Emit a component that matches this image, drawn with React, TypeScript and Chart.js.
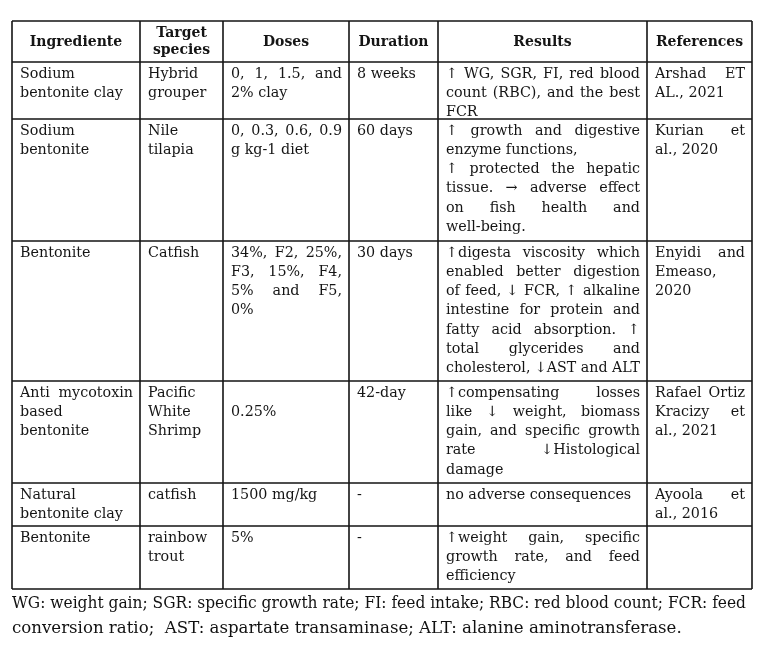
import React, { useEffect, useRef } from "react";
import { Chart, registerables } from "chart.js";

Chart.register(...registerables);

// ---------- DATA ----------
const headers: string[][] = [
  ["Ingrediente"],
  ["Target", "species"],
  ["Doses"],
  ["Duration"],
  ["Results"],
  ["References"],
];

const ingredients: string[][] = [
  ["Sodium", "bentonite clay"],
  ["Sodium", "bentonite"],
  ["Bentonite"],
  ["Anti mycotoxin", "based", "bentonite"],
  ["Natural", "bentonite clay"],
  ["Bentonite"],
];

const targetSpecies: string[][] = [
  ["Hybrid", "grouper"],
  ["Nile", "tilapia"],
  ["Catfish"],
  ["Pacific", "White", "Shrimp"],
  ["catfish"],
  ["rainbow", "trout"],
];

const doses: string[][] = [
  ["0, 1, 1.5, and", "2% clay"],
  ["0, 0.3, 0.6, 0.9", "g kg-1 diet"],
  ["34%, F2, 25%,", "F3, 15%, F4,", "5% and F5,", "0%"],
  ["", "0.25%"],
  ["1500 mg/kg"],
  ["5%"],
];

const durations: string[][] = [
  ["8 weeks"],
  ["60 days"],
  ["30 days"],
  ["42-day"],
  ["-"],
  ["-"],
];

// a line ending with "\n" closes a paragraph (not justified)
const results: string[][] = [
  ["↑ WG, SGR, FI, red blood", "count (RBC), and the best", "FCR"],
  [
    "↑ growth and digestive",
    "enzyme functions,\n",
    "↑ protected the hepatic",
    "tissue. → adverse effect",
    "on fish health and",
    "well-being.",
  ],
  [
    "↑digesta viscosity which",
    "enabled better digestion",
    "of feed, ↓ FCR, ↑ alkaline",
    "intestine for protein and",
    "fatty acid absorption. ↑",
    "total glycerides and",
    "cholesterol, ↓AST and ALT",
  ],
  [
    "↑compensating losses",
    "like ↓ weight, biomass",
    "gain, and specific growth",
    "rate ↓Histological",
    "damage",
  ],
  ["no adverse consequences"],
  ["↑weight gain, specific", "growth rate, and feed", "efficiency"],
];

const references: string[][] = [
  ["Arshad ET", "AL., 2021"],
  ["Kurian et", "al., 2020"],
  ["Enyidi and", "Emeaso,", "2020"],
  ["Rafael Ortiz", "Kracizy et", "al., 2021"],
  ["Ayoola et", "al., 2016"],
  [],
];

const footnote: string[] = [
  "WG: weight gain; SGR: specific growth rate; FI: feed intake; RBC: red blood count; FCR: feed",
  "conversion ratio;  AST: aspartate transaminase; ALT: alanine aminotransferase.",
];

const columns: string[][][] = [ingredients, targetSpecies, doses, durations, results, references];

// ---------- LAYOUT ----------
const W = 768;
const H = 651;
const COL_EDGES = [12, 140, 223, 349, 438, 647, 752];
const ROW_EDGES = [21, 62, 119, 241, 381, 483, 526, 589];
const PAD_X = 8;
const LINE_H = 19.2;
const FIRST_LINE = 12;
const FONT = "14.3px 'DejaVu Serif'";
const FONT_BOLD = "bold 14px 'DejaVu Serif'";
const FOOT_FONT = "16.6px 'DejaVu Serif'";
const INK = "#151515";

function drawTextLine(
  ctx: CanvasRenderingContext2D,
  text: string,
  x: number,
  y: number,
  width: number,
  justify: boolean
) {
  const natural = ctx.measureText(text).width;
  if (natural > width) {
    ctx.save();
    ctx.translate(x, y);
    ctx.scale(width / natural, 1);
    ctx.fillText(text, 0, 0);
    ctx.restore();
    return;
  }
  const words = text.split(/\s+/).filter((w) => w.length > 0);
  if (!justify || words.length < 2) {
    ctx.fillText(text, x, y);
    return;
  }
  const total = words.reduce((s, w) => s + ctx.measureText(w).width, 0);
  const gap = (width - total) / (words.length - 1);
  let cx = x;
  for (const w of words) {
    ctx.fillText(w, cx, y);
    cx += ctx.measureText(w).width + gap;
  }
}

const tablePlugin = {
  id: "tablePlugin",
  afterDraw(chart: any) {
    const ctx: CanvasRenderingContext2D = chart.ctx;
    const xs = chart.scales.x;
    const ys = chart.scales.y;
    const px = (v: number) => xs.getPixelForValue(v);
    const py = (v: number) => ys.getPixelForValue(v);

    ctx.save();
    ctx.fillStyle = INK;
    ctx.textBaseline = "middle";

    // header
    ctx.font = FONT_BOLD;
    ctx.textAlign = "center";
    const hTop = ROW_EDGES[0];
    const hBot = ROW_EDGES[1];
    headers.forEach((lines, c) => {
      const cx = (COL_EDGES[c] + COL_EDGES[c + 1]) / 2;
      const mid = (hTop + hBot) / 2 + 0.5;
      const lh = 17;
      lines.forEach((ln, i) => {
        const y = mid + (i - (lines.length - 1) / 2) * lh;
        ctx.fillText(ln, px(cx), py(y));
      });
    });

    // body
    ctx.font = FONT;
    ctx.textAlign = "left";
    columns.forEach((col, c) => {
      const left = COL_EDGES[c] + PAD_X;
      const width = COL_EDGES[c + 1] - COL_EDGES[c] - PAD_X * 2 + 1;
      col.forEach((lines, r) => {
        const top = ROW_EDGES[r + 1];
        lines.forEach((raw, i) => {
          const hard = raw.endsWith("\n");
          const text = raw.replace(/\n$/, "");
          if (!text) return;
          const isLast = i === lines.length - 1 || hard;
          const y = top + FIRST_LINE + i * LINE_H;
          drawTextLine(ctx, text, px(left), py(y), px(left + width) - px(left), !isLast);
        });
      });
    });

    // grid lines
    ctx.strokeStyle = INK;
    ctx.lineWidth = 1.6;
    ctx.beginPath();
    const yTop = ROW_EDGES[0];
    const yBot = ROW_EDGES[ROW_EDGES.length - 1];
    COL_EDGES.forEach((x) => {
      ctx.moveTo(px(x), py(yTop));
      ctx.lineTo(px(x), py(yBot));
    });
    const xL = COL_EDGES[0];
    const xR = COL_EDGES[COL_EDGES.length - 1];
    ROW_EDGES.forEach((y) => {
      ctx.moveTo(px(xL), py(y));
      ctx.lineTo(px(xR), py(y));
    });
    ctx.stroke();

    // footnote
    ctx.font = FOOT_FONT;
    ctx.fillStyle = "#111";
    footnote.forEach((ln, i) => {
      const y = 604 + i * 25;
      const isLast = i === footnote.length - 1;
      drawTextLine(ctx, ln, px(12), py(y), px(746) - px(12), !isLast);
    });

    ctx.restore();
  },
};

export default function App() {
  const ref = useRef<HTMLCanvasElement | null>(null);
  useEffect(() => {
    if (!ref.current) return;
    const chart = new Chart(ref.current, {
      type: "scatter",
      data: { datasets: [] },
      options: {
        animation: false,
        responsive: false,
        maintainAspectRatio: false,
        events: [],
        layout: { padding: 0 },
        plugins: { legend: { display: false }, tooltip: { enabled: false } },
        scales: {
          x: { type: "linear", min: 0, max: W, display: false },
          y: { type: "linear", min: 0, max: H, reverse: true, display: false },
        },
      },
      plugins: [tablePlugin],
    } as any);
    return () => chart.destroy();
  }, []);
  return (
    <div style={{ position: "fixed", left: 0, top: 0, width: W, height: H, background: "#fff" }}>
      <canvas ref={ref} width={W} height={H} style={{ display: "block", width: W, height: H }} />
    </div>
  );
}
